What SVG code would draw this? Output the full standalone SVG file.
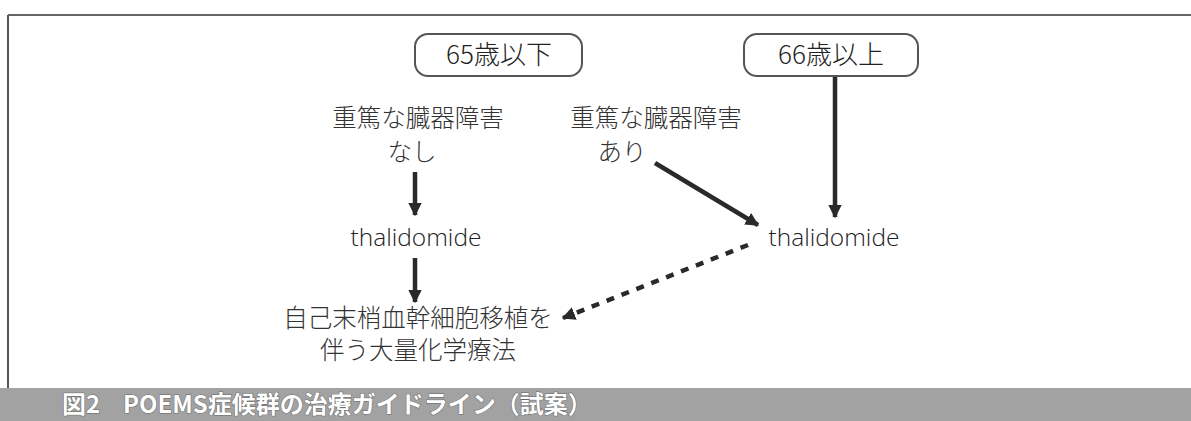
<svg xmlns="http://www.w3.org/2000/svg" width="1191" height="421" viewBox="0 0 1191 421">
<defs>
<style>
.t{font-family:"Open Sans","Noto Sans CJK JP",sans-serif;font-size:24.5px;font-weight:300;fill:#222;text-anchor:middle}
.j{font-family:"Noto Sans CJK JP","Noto Sans",sans-serif;font-size:24.5px;font-weight:300;fill:#333;text-anchor:middle}
.lb{font-family:"Noto Sans CJK JP","Noto Sans",sans-serif;font-size:26px;font-weight:300;fill:#222;text-anchor:middle}
.box{fill:#fff;stroke:#555;stroke-width:2}
.ln{stroke:#2a2a2a;stroke-width:4.5;fill:none}
.ttl{font-family:"Noto Sans CJK JP","Noto Sans",sans-serif;font-size:24px;font-weight:700;fill:#fff;stroke:#666;stroke-width:1;paint-order:stroke}
</style>
<marker id="ah" viewBox="0 0 10 10" refX="9" refY="5" markerWidth="3" markerHeight="3" orient="auto" markerUnits="strokeWidth">
<path d="M0,0 L10,5 L0,10 z" fill="#2a2a2a"/>
</marker>
</defs>
<rect width="1191" height="421" fill="#fff"/>
<g id="frame">
<line x1="8" y1="15" x2="1191" y2="15" stroke="#666" stroke-width="2"/>
<line x1="8" y1="15" x2="8" y2="388" stroke="#555" stroke-width="2"/>
<rect x="0" y="388" width="1191" height="33" fill="#a2a2a2"/>
<text class="ttl" x="62" y="413">図2<tspan x="123">POEMS症候群の治療ガイドライン（試案）</tspan></text>
</g>
<g id="connectors">
<line class="ln" x1="415" y1="172" x2="415" y2="215" marker-end="url(#ah)"/>
<line class="ln" x1="415" y1="258" x2="415" y2="302" marker-end="url(#ah)"/>
<line class="ln" x1="655" y1="163" x2="758" y2="225" marker-end="url(#ah)"/>
<line class="ln" x1="835" y1="76" x2="835" y2="217" marker-end="url(#ah)"/>
<line class="ln" x1="748" y1="245" x2="563" y2="318" stroke-dasharray="8 8" marker-end="url(#ah)"/>
</g>
<g id="n65">
<rect class="box" x="415" y="34" width="167" height="42" rx="13"/>
<text class="lb" x="499" y="64">65歳以下</text>
</g>
<g id="n66">
<rect class="box" x="744" y="34" width="174" height="42" rx="13"/>
<text class="lb" x="831" y="64">66歳以上</text>
</g>
<g id="nNone">
<text class="j" x="418" y="127">重篤な臓器障害</text>
<text class="j" x="412" y="161">なし</text>
</g>
<g id="nYes">
<text class="j" x="656" y="127">重篤な臓器障害</text>
<text class="j" x="622" y="161">あり</text>
</g>
<g id="thaL">
<text class="t" x="416" y="246">thalidomide</text>
</g>
<g id="thaR">
<text class="t" x="834" y="246">thalidomide</text>
</g>
<g id="asct">
<text class="j" x="418" y="327">自己末梢血幹細胞移植を</text>
<text class="j" x="418" y="359">伴う大量化学療法</text>
</g>
</svg>
